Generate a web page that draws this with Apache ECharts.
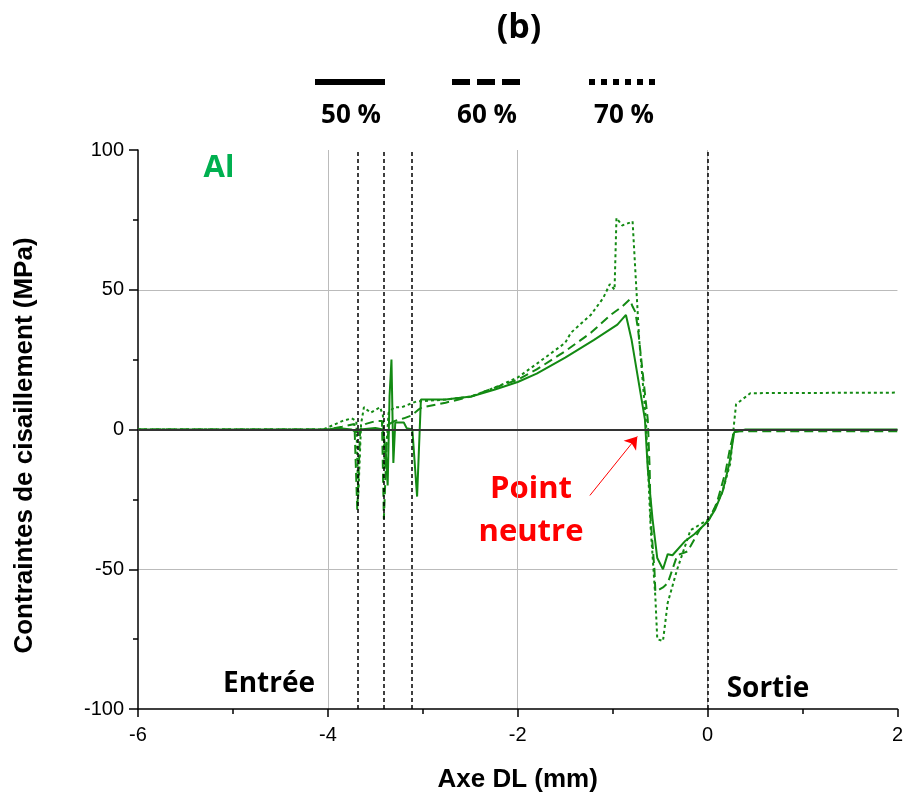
<!DOCTYPE html>
<html>
<head>
<meta charset="utf-8">
<script src="https://cdn.jsdelivr.net/npm/echarts@6/dist/echarts.min.js"></script>
<style>
  html, body { margin: 0; padding: 0; background: #fff; }
  #box { width: 906px; height: 798px; }
</style>
</head>
<body>
<div id="box"></div>
<script>
// 50 % (trait plein)
var x50 = [-6, -4.0, -3.9, -3.75, -3.7, -3.66, -3.5, -3.42, -3.39, -3.37, -3.35, -3.33, -3.31, -3.29, -3.2, -3.17, -3.11, -3.06, -3.02, -2.76, -2.49, -2.24, -2.0, -1.8, -1.5, -1.2, -0.95, -0.86, -0.8, -0.66, -0.63, -0.58, -0.53, -0.47, -0.42, -0.37, -0.24, -0.14, 0.0, 0.08, 0.16, 0.23, 0.28, 0.4, 2];
var y50 = [0, 0, 0.5, 0, -1, 0, 0.5, 0, -8, -20, 12, 25, -12, 2.5, 2.5, 0.5, 0, -24, 10.7, 10.7, 11.8, 14.3, 17, 20, 25.7, 32, 37.5, 41, 32, 3.6, -14, -32, -46, -50, -44.6, -45, -40, -37.5, -33, -28.6, -22, -12, -1, 0, 0];

// 60 % (tirets)
var x60 = [-6, -4.0, -3.85, -3.72, -3.69, -3.66, -3.6, -3.5, -3.43, -3.41, -3.38, -3.35, -3.3, -3.2, -3.12, -3.05, -3.01, -2.76, -2.49, -2.24, -2.0, -1.8, -1.5, -1.23, -1.02, -0.9, -0.82, -0.79, -0.76, -0.73, -0.63, -0.61, -0.6, -0.56, -0.55, -0.47, -0.42, -0.32, -0.21, -0.08, 0.02, 0.1, 0.19, 0.24, 0.28, 0.5, 2];
var y60 = [0, 0, 1, 2, -29, 0, 2, 3, 3, -32, -5, 2, 3, 4, 5, 7, 7.9, 9.6, 11.8, 15, 17.8, 21.5, 28, 34.6, 41, 44, 46.5, 44, 42, 35, 3.5, -14, -32, -50, -58, -56.5, -55, -45, -43.6, -35.7, -32, -26, -15, -6, -0.7, -0.6, -0.6];

// 70 % (pointillés)
var x70 = [-6, -4.05, -3.95, -3.85, -3.75, -3.7, -3.68, -3.65, -3.62, -3.55, -3.5, -3.45, -3.42, -3.4, -3.36, -3.3, -3.22, -3.07, -2.76, -2.49, -2.24, -2.0, -1.8, -1.5, -1.44, -1.23, -1.1, -1.03, -0.98, -0.96, -0.9, -0.82, -0.79, -0.72, -0.65, -0.6, -0.55, -0.53, -0.47, -0.42, -0.32, -0.18, 0.02, 0.155, 0.24, 0.28, 0.3, 0.45, 2];
var y70 = [0, 0, 1.5, 3, 4, 3, -24, 2, 8, 6, 7, 8, 5, -14, 6, 8, 8, 10, 10.7, 11.8, 15, 18.6, 23.5, 31, 34.6, 41, 47, 52, 50, 75.7, 73, 74, 74.5, 32, 3.6, -35, -60, -75, -75.7, -62, -50, -36, -32, -22.5, -12, 2.5, 9, 13, 13.2];

// repères verticaux (entrée / sortie)
var vLines = [-3.68, -3.41, -3.12, 0];

var xTicks = { min: -6, max: 2, interval: 2 };
var yTicks = { min: -100, max: 100, interval: 50 };

function pairs(xs, ys) {
  return xs.map(function (x, i) { return [x, ys[i]]; });
}

var green = '#138a13';
var chart = echarts.init(document.getElementById('box'));

var axisFont = { fontFamily: 'Liberation Sans', fontSize: 20, color: '#000' };
var nameFont = { fontFamily: 'Liberation Sans', fontSize: 26, fontWeight: 'bold', color: '#000' };

function txt(x, y, s, size, color) {
  return {
    type: 'text',
    style: { x: x, y: y, text: s, textAlign: 'center', textVerticalAlign: 'middle',
             font: 'bold ' + size + 'px "Open Sans"', fill: color || '#000' }
  };
}

option = {
  animation: false,
  backgroundColor: '#fff',
  grid: {
    left: 138,
    right: 5,
    top: 150,
    bottom: 88
  },
  xAxis: {
    type: 'value',
    min: xTicks.min,
    max: xTicks.max,
    interval: xTicks.interval,
    name: 'Axe DL (mm)',
    nameLocation: 'middle',
    nameGap: 58,
    nameTextStyle: nameFont,
    axisLine: { onZero: false, lineStyle: { color: '#000', width: 1.5 } },
    axisTick: { length: 8, lineStyle: { color: '#000', width: 1.5 } },
    minorTick: { show: true, splitNumber: 2, length: 5, lineStyle: { color: '#000', width: 1.5 } },
    axisLabel: Object.assign({ margin: 16 }, axisFont),
    splitLine: { show: true, showMinLine: false, showMaxLine: false, lineStyle: { color: '#bbb', width: 1 } }
  },
  yAxis: {
    type: 'value',
    min: yTicks.min,
    max: yTicks.max,
    interval: yTicks.interval,
    name: 'Contraintes de cisaillement (MPa)',
    nameLocation: 'middle',
    nameGap: 100,
    nameTextStyle: Object.assign({ padding: [0, 32, 0, 0] }, nameFont),
    axisLine: { show: true, onZero: false, lineStyle: { color: '#000', width: 1.5 } },
    axisTick: { show: true, length: 9, lineStyle: { color: '#000', width: 1.5 } },
    minorTick: { show: true, splitNumber: 2, length: 5, lineStyle: { color: '#000', width: 1.5 } },
    axisLabel: Object.assign({ margin: 14 }, axisFont),
    splitLine: { show: true, showMinLine: false, showMaxLine: false, lineStyle: { color: '#bbb', width: 1 } }
  },
  series: [
    {
      name: '50 %',
      type: 'line',
      data: pairs(x50, y50),
      symbol: 'none',
      lineStyle: { color: green, width: 2 },
      z: 3,
      markLine: {
        silent: true,
        symbol: 'none',
        label: { show: false },
        data: [
          { yAxis: 0, lineStyle: { color: '#333', width: 2, type: 'solid' } }
        ].concat(vLines.map(function (v) {
          return { xAxis: v, lineStyle: { color: '#000', width: 1.5, type: [4, 3] } };
        }))
      }
    },
    {
      name: '60 %',
      type: 'line',
      data: pairs(x60, y60),
      symbol: 'none',
      lineStyle: { color: green, width: 2, type: [9, 5] },
      z: 3
    },
    {
      name: '70 %',
      type: 'line',
      data: pairs(x70, y70),
      symbol: 'none',
      lineStyle: { color: green, width: 2, type: [3, 3] },
      z: 3,
      markLine: {
        silent: true,
        symbol: ['none', 'arrow'],
        symbolSize: 12,
        label: { show: false },
        lineStyle: { color: '#ff0000', width: 1, type: 'solid' },
        data: [[{ coord: [-1.24, -23.6] }, { coord: [-0.74, -2.5] }]]
      }
    }
  ],
  graphic: [
    txt(519, 28, '(b)', 34),
    { type: 'line', shape: { x1: 315, y1: 82, x2: 385, y2: 82 }, style: { stroke: '#000', lineWidth: 6 } },
    { type: 'line', shape: { x1: 452, y1: 82, x2: 521, y2: 82 }, style: { stroke: '#000', lineWidth: 6, lineDash: [18, 7] } },
    { type: 'line', shape: { x1: 589, y1: 82, x2: 659, y2: 82 }, style: { stroke: '#000', lineWidth: 6, lineDash: [6, 6] } },
    txt(351, 116, '50 %', 26),
    txt(487, 116, '60 %', 26),
    txt(624, 116, '70 %', 26),
    txt(219, 168, 'Al', 31, '#00b050'),
    txt(531, 489, 'Point', 31, '#ff0000'),
    txt(531, 532, 'neutre', 31, '#ff0000'),
    txt(269, 684, 'Entrée', 28),
    txt(768, 689, 'Sortie', 28)
  ]
};

chart.setOption(option);
</script>
</body>
</html>
